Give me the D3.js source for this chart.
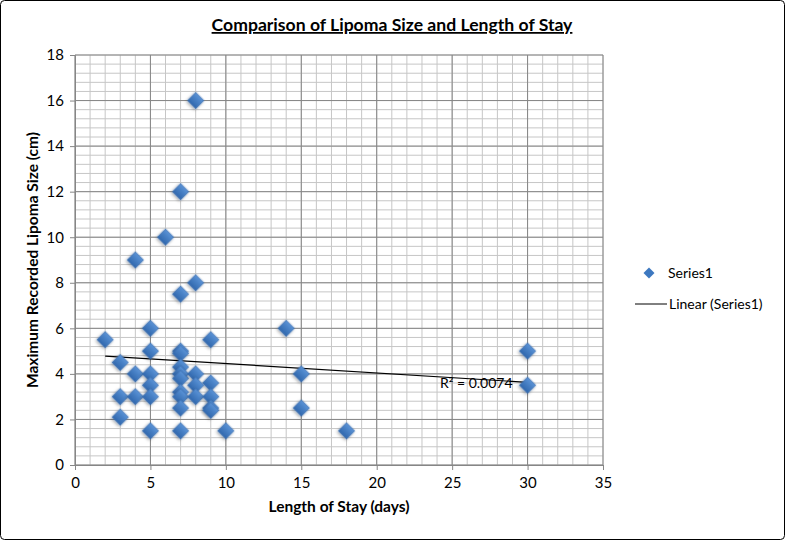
<!DOCTYPE html>
<html>
<head>
<meta charset="utf-8">
<script src="https://cdn.jsdelivr.net/npm/d3@7"></script>
<style>
  body { margin: 0; background: #fff; }
  svg { display: block; font-family: Lato, "Open Sans", sans-serif; }
</style>
</head>
<body>
<svg width="785" height="540"></svg>
<script>
// data
const stayDays = [8, 7, 6, 4, 8, 7, 2, 5, 14, 9, 5, 7, 7, 3, 4, 5, 7, 7, 7, 8, 9, 5, 8, 3, 4, 5, 7, 7, 8, 9, 7, 9, 9, 3, 5, 7, 10, 18, 15, 15, 30, 30];
const lipomaSize = [16, 12, 10, 9, 8, 7.5, 5.5, 6, 6, 5.5, 5, 5, 4.9, 4.5, 4, 4, 4.3, 4, 3.8, 4, 3.6, 3.5, 3.5, 3, 3, 3, 3.2, 3, 3, 3, 2.5, 2.5, 2.4, 2.1, 1.5, 1.5, 1.5, 1.5, 4, 2.5, 5, 3.5];
const trendX = [2, 30];
const trendY = [4.78, 3.63];
const xTicks = [0, 5, 10, 15, 20, 25, 30, 35];
const yTicks = [0, 2, 4, 6, 8, 10, 12, 14, 16, 18];
const rSquaredLabel = 'R² = 0.0074';

function render() {
    const svg = d3.select('svg');

    // 外框
    svg.append('rect')
        .attr('x', 0.5).attr('y', 0.5)
        .attr('width', 784).attr('height', 539)
        .attr('rx', 4)
        .attr('fill', '#fff')
        .attr('stroke', '#000');

    const x = d3.scaleLinear().domain([0, 35]).range([75, 603]);
    const y = d3.scaleLinear().domain([0, 18]).range([465, 55]);

    const defs = svg.append('defs');
    const grad = defs.append('linearGradient').attr('id', 'dia')
        .attr('x1', 0).attr('y1', 0).attr('x2', 0).attr('y2', 1);
    grad.append('stop').attr('offset', '0%').attr('stop-color', '#5a92d6');
    grad.append('stop').attr('offset', '100%').attr('stop-color', '#2f67ad');
    const shadow = defs.append('filter').attr('id', 'sh')
        .attr('x', '-50%').attr('y', '-50%').attr('width', '200%').attr('height', '200%');
    shadow.append('feDropShadow')
        .attr('dx', 0).attr('dy', 1.5).attr('stdDeviation', 1.5)
        .attr('flood-color', '#000').attr('flood-opacity', 0.35);

    // minor grid
    const grid = svg.append('g');
    grid.selectAll('line.mx')
        .data(d3.range(0, 36, 1))
        .enter().append('line')
        .attr('x1', d => x(d)).attr('x2', d => x(d))
        .attr('y1', y(0)).attr('y2', y(18))
        .attr('stroke', '#c6c6c6');
    grid.selectAll('line.my')
        .data(d3.range(0, 18.01, 0.4))
        .enter().append('line')
        .attr('y1', d => y(d)).attr('y2', d => y(d))
        .attr('x1', x(0)).attr('x2', x(35))
        .attr('stroke', '#c6c6c6');
    // major grid
    grid.selectAll('line.Mx')
        .data(xTicks)
        .enter().append('line')
        .attr('x1', d => x(d)).attr('x2', d => x(d))
        .attr('y1', y(0)).attr('y2', y(18))
        .attr('stroke', '#868686');
    grid.selectAll('line.My')
        .data(yTicks)
        .enter().append('line')
        .attr('y1', d => y(d)).attr('y2', d => y(d))
        .attr('x1', x(0)).attr('x2', x(35))
        .attr('stroke', '#868686');

    // axes
    const xAxis = svg.append('g')
        .attr('transform', `translate(0,${y(0)})`)
        .call(d3.axisBottom(x).tickValues(xTicks).tickSize(5).tickPadding(7));
    const yAxis = svg.append('g')
        .attr('transform', `translate(${x(0)},0)`)
        .call(d3.axisLeft(y).tickValues(yTicks).tickSize(5).tickPadding(6));
    [xAxis, yAxis].forEach(ax => {
        ax.select('.domain').attr('stroke', '#868686');
        ax.selectAll('.tick line').attr('stroke', '#868686');
        ax.selectAll('.tick text')
            .attr('fill', '#000')
            .style('font-family', 'Lato, sans-serif')
            .style('font-size', '15px');
    });

    // trend line
    const line = d3.line()
        .x(d => x(d[0]))
        .y(d => y(d[1]));
    svg.append('path')
        .datum(d3.zip(trendX, trendY))
        .attr('d', line)
        .attr('fill', 'none')
        .attr('stroke', '#000')
        .attr('stroke-width', 1.2);

    // points
    const diamond = d3.symbol().type(d3.symbolSquare).size(135);
    svg.append('g').selectAll('path')
        .data(d3.zip(stayDays, lipomaSize))
        .enter().append('path')
        .attr('d', diamond)
        .attr('transform', d => `translate(${x(d[0])},${y(d[1])}) rotate(45)`)
        .attr('fill', 'url(#dia)')
        .attr('stroke', '#3a6fb0')
        .attr('stroke-width', 0.6)
        .attr('filter', 'url(#sh)');

    // R² label
    svg.append('text')
        .text(rSquaredLabel)
        .attr('x', x(trendX[1]) - 15)
        .attr('y', y(trendY[1]) + 6)
        .attr('text-anchor', 'end')
        .style('font-size', '14px')
        .attr('fill', '#000');

    // titles
    svg.append('text')
        .text('Comparison of Lipoma Size and Length of Stay')
        .attr('x', 392).attr('y', 31)
        .attr('text-anchor', 'middle')
        .style('font-size', '17.6px')
        .style('font-weight', 'bold')
        .style('text-decoration', 'underline');
    svg.append('text')
        .text('Length of Stay (days)')
        .attr('x', (x(0) + x(35)) / 2).attr('y', 512)
        .attr('text-anchor', 'middle')
        .style('font-size', '15.5px')
        .style('font-weight', 'bold');
    svg.append('text')
        .text('Maximum Recorded Lipoma Size (cm)')
        .attr('transform', `translate(38,${(y(0) + y(18)) / 2}) rotate(-90)`)
        .attr('text-anchor', 'middle')
        .style('font-size', '15.5px')
        .style('font-weight', 'bold');

    // legend
    const legend = svg.append('g').style('font-size', '14px');
    legend.append('path')
        .attr('d', d3.symbol().type(d3.symbolSquare).size(60))
        .attr('transform', 'translate(649,273) rotate(45)')
        .attr('fill', '#3d78c0');
    legend.append('text').text('Series1').attr('x', 668).attr('y', 278);
    legend.append('line')
        .attr('x1', 635).attr('x2', 667)
        .attr('y1', 304).attr('y2', 304)
        .attr('stroke', '#000');
    legend.append('text').text('Linear (Series1)').attr('x', 669).attr('y', 309);
}

render();
</script>
</body>
</html>
